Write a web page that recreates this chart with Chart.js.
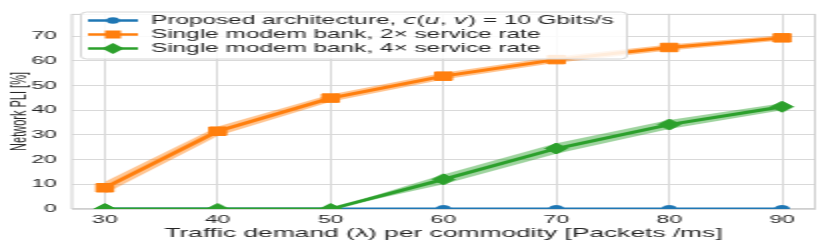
<!DOCTYPE html>
<html>
<head>
<meta charset="utf-8">
<script src="https://cdn.jsdelivr.net/npm/chart.js@4.4.1/dist/chart.umd.min.js"></script>
<style>
html, body { margin: 0; padding: 0; background: #fff; }
</style>
</head>
<body>
<canvas id="chart_pli" width="415" height="243" style="width:830px;height:243px"></canvas>
<script>
// traffic demand (x) and network PLI values (%)
var trafficDemand = [30, 40, 50, 60, 70, 80, 90];
var proposedPli = [0, 0, 0, 0, 0, 0, 0];
var bank2xPli = [8.6, 31.5, 44.9, 53.8, 60.5, 65.4, 69.3];
var bank2xLow = [6.2, 29.6, 43.4, 52.4, 59.2, 64.2, 68.2];
var bank2xHigh = [11.0, 33.4, 46.4, 55.2, 61.8, 66.6, 70.4];
var bank4xPli = [0, 0, 0, 12.0, 24.5, 34.2, 41.4];
var bank4xLow = [0, 0, 0, 10.0, 22.4, 32.4, 40.0];
var bank4xHigh = [0, 0, 0, 14.0, 26.6, 36.0, 42.8];

var xTicks = [30, 40, 50, 60, 70, 80, 90];
var yTicks = [0, 10, 20, 30, 40, 50, 60, 70];

// $...$ parts are drawn in italic (math letters)
var legendLabels = [
	'Proposed architecture, $c$($u$, $v$) = 10 Gbits/s',
	'Single modem bank, 2\u00d7 service rate',
	'Single modem bank, 4\u00d7 service rate'
];

var BLUE = '#1f77b4';
var ORANGE = '#ff7f0e';
var GREEN = '#2ca02c';
var TXT = '#262626';
var GRID = '#d9d9d9';

function pts(ys) {
	return trafficDemand.map(function (x, i) { return { x: x, y: ys[i] }; });
}

function bandSet(ys, color, fill, order) {
	return {
		type: 'line', data: pts(ys), borderWidth: 0, pointRadius: 0,
		borderColor: color, backgroundColor: color, fill: fill, order: order, clip: 0
	};
}

function lineSet(ys, color, style, radius, order) {
	return {
		type: 'line', data: pts(ys), borderColor: color, backgroundColor: color,
		borderWidth: 3, pointStyle: style, pointRadius: radius, pointBorderWidth: 1,
		pointBorderColor: color, pointBackgroundColor: color, fill: false, order: order, clip: 0
	};
}

// frame round the plot area
var framePlugin = {
	id: 'frame',
	beforeDatasetsDraw: function (chart) {
		var a = chart.chartArea, ctx = chart.ctx;
		ctx.save();
		ctx.strokeStyle = '#cfcfcf';
		ctx.lineWidth = 1;
		ctx.strokeRect(a.left + 0.5, a.top + 0.5, a.right - a.left - 1, a.bottom - a.top - 1);
		ctx.restore();
	}
};

function drawMarker(ctx, style, x, y, r) {
	ctx.beginPath();
	if (style === 'circle') {
		ctx.arc(x, y, r, 0, Math.PI * 2);
	} else if (style === 'rect') {
		ctx.rect(x - r, y - r, 2 * r, 2 * r);
	} else {
		ctx.moveTo(x - r, y); ctx.lineTo(x, y - r); ctx.lineTo(x + r, y); ctx.lineTo(x, y + r); ctx.closePath();
	}
	ctx.fill();
}

// legend inside the plot, upper left
var legendPlugin = {
	id: 'insideLegend',
	afterDraw: function (chart) {
		var ctx = chart.ctx;
		var bx = 40, by = 11.5, bw = 273, bh = 47;
		ctx.save();
		ctx.beginPath();
		ctx.roundRect(bx + 0.5, by + 0.5, bw, bh, 3);
		ctx.fillStyle = 'rgba(255,255,255,0.85)';
		ctx.fill();
		ctx.strokeStyle = '#d6d6d6';
		ctx.lineWidth = 1;
		ctx.stroke();

		var rows = [20.5, 34.5, 48.5];
		var colors = [BLUE, ORANGE, GREEN];
		var styles = ['circle', 'rect', 'diamond'];
		var sizes = [3.2, 4, 5.5];
		for (var i = 0; i < legendLabels.length; i++) {
			var y = rows[i];
			ctx.strokeStyle = colors[i];
			ctx.fillStyle = colors[i];
			ctx.lineWidth = 2.5;
			ctx.beginPath(); ctx.moveTo(44, y); ctx.lineTo(69, y); ctx.stroke();
			drawMarker(ctx, styles[i], 56.5, y, sizes[i]);

			var parts = legendLabels[i].split('$');
			var x = 75.5;
			ctx.fillStyle = TXT;
			ctx.textBaseline = 'middle';
			ctx.textAlign = 'left';
			for (var p = 0; p < parts.length; p++) {
				ctx.font = (p % 2 === 1) ? 'italic 12.2px "DejaVu Sans"' : '12.2px "Liberation Sans"';
				ctx.fillText(parts[p], x, y);
				x += ctx.measureText(parts[p]).width;
			}
		}
		ctx.restore();
	}
};

new Chart('chart_pli', {
	data: {
		datasets: [
			bandSet(bank2xLow, 'rgba(255,127,14,0.45)', false, 10),
			bandSet(bank2xHigh, 'rgba(255,127,14,0.45)', '-1', 9),
			bandSet(bank4xLow, 'rgba(44,160,44,0.45)', false, 8),
			bandSet(bank4xHigh, 'rgba(44,160,44,0.45)', '-1', 7),
			lineSet(proposedPli, BLUE, 'circle', 3.5, 3),
			lineSet(bank2xPli, ORANGE, 'rect', 6, 2),
			lineSet(bank4xPli, GREEN, 'rectRot', 5.5, 1)
		]
	},
	options: {
		responsive: false,
		devicePixelRatio: 1,
		animation: false,
		layout: { padding: { top: 5, right: 4.65, left: 0, bottom: 0 } },
		plugins: {
			legend: { display: false },
			tooltip: { enabled: false }
		},
		scales: {
			x: {
				type: 'linear', min: 27, max: 93,
				afterBuildTicks: function (axis) { axis.ticks = xTicks.map(function (v) { return { value: v }; }); },
				afterFit: function (axis) { axis.height = 34; },
				ticks: { color: TXT, font: { family: 'Liberation Sans', size: 11.5 }, padding: 4.2, maxRotation: 0 },
				grid: { color: GRID, drawTicks: false },
				border: { display: false },
				title: {
					display: true, text: 'Traffic demand (\u03bb) per commodity [Packets /ms]',
					color: TXT, font: { family: 'Liberation Sans', size: 13.2 }, padding: { top: 0, bottom: 2.2 }
				}
			},
			y: {
				type: 'linear', min: 0, max: 79,
				afterBuildTicks: function (axis) { axis.ticks = yTicks.map(function (v) { return { value: v }; }); },
				afterFit: function (axis) { axis.width = 35.5; },
				ticks: { color: TXT, font: { family: 'Liberation Sans', size: 11.5 }, padding: 7 },
				grid: { color: GRID, drawTicks: false },
				border: { display: false },
				title: {
					display: true, text: 'Network PLI [%]',
					color: TXT, font: { family: 'Liberation Sans', size: 11 }, padding: { top: 3.4, bottom: 0 }
				}
			}
		}
	},
	plugins: [framePlugin, legendPlugin]
});
</script>
</body>
</html>
